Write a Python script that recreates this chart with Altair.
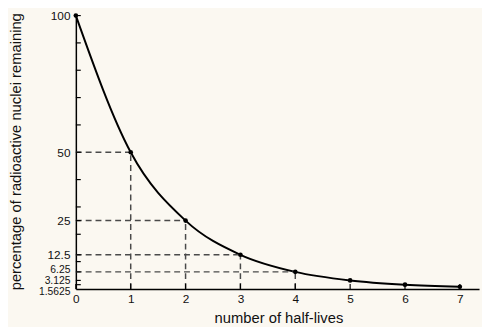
import altair as alt
import pandas as pd

# ---- data ----
half_lives = [0, 1, 2, 3, 4, 5, 6, 7]
percent_remaining = [100, 50, 25, 12.5, 6.25, 3.125, 1.5625, 0.78125]
y_labelled_ticks = [100, 50, 25, 12.5, 6.25, 3.125, 1.5625]
y_minor_ticks = [10, 20, 30, 40, 60, 70, 80, 90]
x_ticks = [0, 1, 2, 3, 4, 5, 6, 7]
guide_half_lives = [1, 2, 3, 4]
guide_percent = [50, 25, 12.5, 6.25]
x_title = "number of half-lives"
y_title = "percentage of radioactive nuclei remaining"

curve = pd.DataFrame({"t": half_lives, "p": percent_remaining})
guides = pd.DataFrame({"t": guide_half_lives, "p": guide_percent,
                       "base": [0] * len(guide_half_lives)})
yticks = pd.DataFrame({"v": y_labelled_ticks + y_minor_ticks})
xticks = pd.DataFrame({"t": x_ticks})

FONT = "Liberation Sans"
W, H = 410, 278

xscale = alt.Scale(domain=[0, 7.35], nice=False, zero=False)
yscale = alt.Scale(domain=[0, 100], nice=False)

x_axis = alt.Axis(
    values=x_ticks, ticks=False, grid=False,
    domainColor="black", domainWidth=1.5,
    labelFont=FONT, labelFontSize=12, labelColor="#111",
    labelPadding=5, labelAngle=0, labelFlush=False, labelOverlap=False,
    title=x_title, titleFont=FONT, titleFontSize=15, titleFontWeight="normal",
    titleColor="#111", titleX=206, titleY=34, titleAlign="center",
    titleBaseline="alphabetic",
)
y_axis = alt.Axis(
    values=y_labelled_ticks, ticks=False, grid=False,
    domainColor="black", domainWidth=1.5,
    labelFont=FONT, labelColor="#111",
    labelFontSize={"condition": {"test": "datum.value < 7", "value": 10.5}, "value": 12},
    labelPadding=6, labelBaseline="middle", labelFlush=False, labelOverlap=False,
    labelExpr="'' + datum.value",
    labelOffset={"condition": [
        {"test": "datum.value == 1.5625", "value": 7},
        {"test": "datum.value == 3.125", "value": 0.5},
        {"test": "datum.value == 6.25", "value": -2},
    ], "value": 0},
    title=y_title, titleFont=FONT, titleFontSize=15, titleFontWeight="normal",
    titleColor="#111", titleAngle=-90, titleX=-56, titleY=138,
    titleAlign="center", titleBaseline="alphabetic",
)

X = lambda f: alt.X(f, scale=xscale, axis=x_axis, title=x_title)
Y = lambda f: alt.Y(f, scale=yscale, axis=y_axis, title=y_title)

line = alt.Chart(curve).mark_line(color="black", strokeWidth=2, interpolate="monotone").encode(
    x=X("t:Q"),
    y=Y("p:Q"),
)
hguides = alt.Chart(guides).mark_rule(strokeDash=[6, 4], color="#4a4a4a", strokeWidth=1.5).encode(
    x=X("base:Q"),
    x2="t:Q",
    y=Y("p:Q"),
)
vguides = alt.Chart(guides).mark_rule(strokeDash=[6, 4], color="#4a4a4a", strokeWidth=1.5).encode(
    x=X("t:Q"),
    y=Y("base:Q"),
    y2="p:Q",
)
ytick_marks = alt.Chart(yticks).mark_rule(color="black", strokeWidth=1.2).encode(
    y=Y("v:Q"),
    x=alt.value(0),
    x2=alt.value(5),
)
xtick_marks = alt.Chart(xticks).mark_rule(color="black", strokeWidth=1.2).encode(
    x=X("t:Q"),
    y=alt.value(H),
    y2=alt.value(H - 5),
)
points = alt.Chart(curve).mark_circle(size=22, color="black", opacity=1).encode(
    x=X("t:Q"),
    y=Y("p:Q"),
)

chart = alt.layer(line, hguides, vguides, ytick_marks, xtick_marks, points).properties(
    width=W, height=H,
    background="#FBF8F1",
    autosize=alt.AutoSizeParams(type="none"),
    padding={"left": 69, "top": 5, "right": 3, "bottom": 36},
).configure_view(stroke=None)

chart.save("out.html", embed_options={"renderer": "svg", "actions": False})
